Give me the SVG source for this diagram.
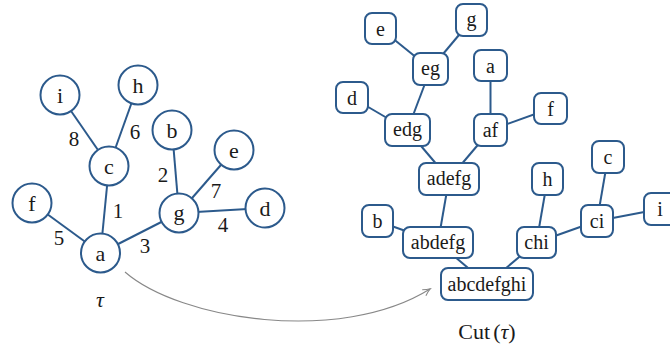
<svg xmlns="http://www.w3.org/2000/svg" width="670" height="349" viewBox="0 0 670 349" font-family="'Liberation Serif', serif">
<defs>
<style>
.e{stroke:#2c5a8c;stroke-width:2;fill:none}
.n circle,.n rect{fill:#fff;stroke:#2c5a8c;stroke-width:2}
text{font-family:'Liberation Serif',serif;fill:#1a1a1a;text-anchor:middle;dominant-baseline:central}
.t{font-size:22px}
.w{font-size:21px}
.b{font-size:20px}
</style>
<marker id="arr" markerWidth="10" markerHeight="10" refX="8" refY="5" orient="auto" markerUnits="userSpaceOnUse">
<path d="M1,1.5 Q5,4 8.5,5 Q5,6 1,8.5" fill="none" stroke="#888" stroke-width="1.1"/>
</marker>
</defs>
<g id="connectors">
<line class="e" x1="60" y1="95" x2="109" y2="166"/>
<line class="e" x1="138" y1="85" x2="109" y2="166"/>
<line class="e" x1="109" y1="166" x2="100.5" y2="253"/>
<line class="e" x1="32" y1="203" x2="100.5" y2="253"/>
<line class="e" x1="100.5" y1="253" x2="179" y2="213"/>
<line class="e" x1="172" y1="130" x2="179" y2="213"/>
<line class="e" x1="234" y1="150" x2="179" y2="213"/>
<line class="e" x1="265" y1="208" x2="179" y2="213"/>
<line class="e" x1="380.5" y1="28.5" x2="430.5" y2="69"/>
<line class="e" x1="471.5" y1="20" x2="430.5" y2="69"/>
<line class="e" x1="430.5" y1="69" x2="407.5" y2="130"/>
<line class="e" x1="352" y1="97.5" x2="407.5" y2="130"/>
<line class="e" x1="407.5" y1="130" x2="449" y2="179"/>
<line class="e" x1="490.5" y1="65.5" x2="490.5" y2="130"/>
<line class="e" x1="550.5" y1="108.5" x2="490.5" y2="130"/>
<line class="e" x1="490.5" y1="130" x2="449" y2="179"/>
<line class="e" x1="449" y1="179" x2="438" y2="242.5"/>
<line class="e" x1="377.5" y1="221" x2="438" y2="242.5"/>
<line class="e" x1="438" y1="242.5" x2="487" y2="284"/>
<line class="e" x1="536.5" y1="242.5" x2="487" y2="284"/>
<line class="e" x1="547.5" y1="179" x2="536.5" y2="242.5"/>
<line class="e" x1="597" y1="221" x2="536.5" y2="242.5"/>
<line class="e" x1="608" y1="157" x2="597" y2="221"/>
<line class="e" x1="660" y1="209" x2="597" y2="221"/>
<path d="M125,272 C180,320 340,345 430,289" fill="none" stroke="#888" stroke-width="1.1" marker-end="url(#arr)"/>
</g>
<g id="weights">
<text class="w" x="74" y="139">8</text>
<text class="w" x="135" y="132">6</text>
<text class="w" x="163" y="175">2</text>
<text class="w" x="216" y="191">7</text>
<text class="w" x="118" y="211">1</text>
<text class="w" x="223" y="225">4</text>
<text class="w" x="59" y="238">5</text>
<text class="w" x="145" y="246">3</text>
</g>
<g id="t-i" class="n"><circle cx="60" cy="95" r="19.5"/><text class="t" x="60" y="95">i</text></g>
<g id="t-h" class="n"><circle cx="138" cy="85" r="19.5"/><text class="t" x="138" y="85">h</text></g>
<g id="t-c" class="n"><circle cx="109" cy="166" r="19.5"/><text class="t" x="109" y="166">c</text></g>
<g id="t-b" class="n"><circle cx="172" cy="130" r="19.5"/><text class="t" x="172" y="130">b</text></g>
<g id="t-e" class="n"><circle cx="234" cy="150" r="19.5"/><text class="t" x="234" y="150">e</text></g>
<g id="t-f" class="n"><circle cx="32" cy="203" r="19.5"/><text class="t" x="32" y="203">f</text></g>
<g id="t-g" class="n"><circle cx="179" cy="213" r="19.5"/><text class="t" x="179" y="212">g</text></g>
<g id="t-d" class="n"><circle cx="265" cy="208" r="19.5"/><text class="t" x="265" y="208">d</text></g>
<g id="t-a" class="n"><circle cx="100.5" cy="253" r="19.5"/><text class="t" x="100.5" y="253">a</text></g>
<text x="100" y="299" font-size="22" font-style="italic">τ</text>
<g id="c-e" class="n"><rect x="365" y="13" width="31" height="31" rx="7"/><text class="b" x="380.5" y="28.5">e</text></g>
<g id="c-g" class="n"><rect x="456" y="4" width="31" height="32" rx="7"/><text class="b" x="471.5" y="19">g</text></g>
<g id="c-eg" class="n"><rect x="413" y="53" width="35" height="32" rx="7"/><text class="b" x="430.5" y="68">eg</text></g>
<g id="c-a" class="n"><rect x="474" y="50" width="33" height="31" rx="7"/><text class="b" x="490.5" y="65.5">a</text></g>
<g id="c-d" class="n"><rect x="336" y="82" width="32" height="31" rx="7"/><text class="b" x="352" y="97.5">d</text></g>
<g id="c-f" class="n"><rect x="534" y="93" width="33" height="31" rx="7"/><text class="b" x="550.5" y="108.5">f</text></g>
<g id="c-edg" class="n"><rect x="385" y="114" width="45" height="32" rx="7"/><text class="b" x="407.5" y="129">edg</text></g>
<g id="c-af" class="n"><rect x="474" y="114" width="33" height="32" rx="7"/><text class="b" x="490.5" y="130">af</text></g>
<g id="c-adefg" class="n"><rect x="419" y="163" width="60" height="32" rx="7"/><text class="b" x="449" y="178">adefg</text></g>
<g id="c-h" class="n"><rect x="532" y="163" width="31" height="32" rx="7"/><text class="b" x="547.5" y="179">h</text></g>
<g id="c-c" class="n"><rect x="592" y="141" width="32" height="32" rx="7"/><text class="b" x="608" y="157">c</text></g>
<g id="c-b" class="n"><rect x="362" y="205" width="31" height="32" rx="7"/><text class="b" x="377.5" y="221">b</text></g>
<g id="c-abdefg" class="n"><rect x="403" y="227" width="70" height="31" rx="7"/><text class="b" x="438" y="241.5">abdefg</text></g>
<g id="c-chi" class="n"><rect x="517" y="227" width="39" height="31" rx="7"/><text class="b" x="536.5" y="242">chi</text></g>
<g id="c-ci" class="n"><rect x="581" y="205" width="32" height="32" rx="7"/><text class="b" x="597" y="221">ci</text></g>
<g id="c-i" class="n"><rect x="644" y="193" width="32" height="32" rx="7"/><text class="b" x="660" y="209">i</text></g>
<g id="c-abcdefghi" class="n"><rect x="441" y="268" width="92" height="32" rx="7"/><text class="b" x="487" y="283.5">abcdefghi</text></g>
<text x="487" y="331" font-size="22">Cut<tspan dx="3">(</tspan><tspan font-style="italic">τ</tspan>)</text>
</svg>
